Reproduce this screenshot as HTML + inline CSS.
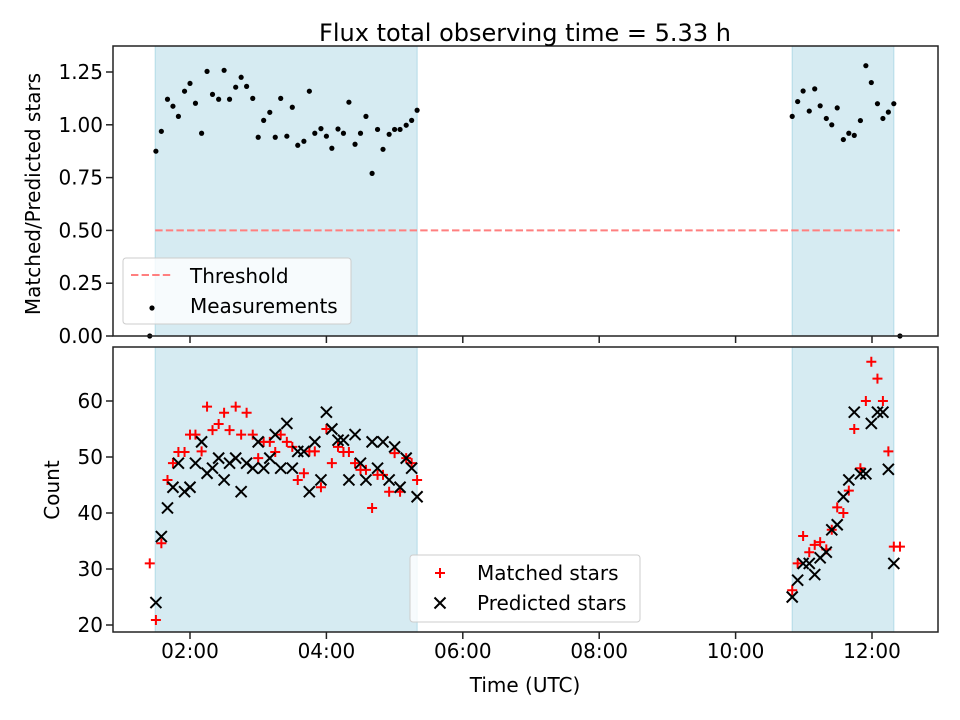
<!DOCTYPE html>
<html><head><meta charset="utf-8"><style>
body{margin:0;background:#fff;}
svg{display:block;font-family:"DejaVu Sans","Liberation Sans",sans-serif;}
</style></head><body>
<svg id="chart" width="960" height="720" viewBox="0 0 960 720"></svg>
<script>
// ---- data ----
const timesLeft = [1.50,1.58,1.67,1.75,1.83,1.92,2.00,2.08,2.17,2.25,2.33,2.42,2.50,2.58,2.67,2.75,2.83,2.92,3.00,3.08,3.17,3.25,3.33,3.42,3.50,3.58,3.67,3.75,3.83,3.92,4.00,4.08,4.17,4.25,4.33,4.42,4.50,4.58,4.67,4.75,4.83,4.92,5.00,5.08,5.17,5.25,5.33];
const ratioLeft = [0.875,0.969,1.121,1.088,1.040,1.159,1.196,1.102,0.960,1.253,1.144,1.121,1.258,1.121,1.178,1.225,1.182,1.125,0.941,1.021,1.059,0.941,1.125,0.946,1.083,0.903,0.922,1.159,0.960,0.982,0.946,0.889,0.980,0.960,1.107,0.908,0.960,1.040,0.770,0.978,0.884,0.955,0.978,0.978,0.998,1.021,1.069];
const matchedLeft = [20.9,34.6,45.9,48.9,50.9,50.9,54,54,51,59,54.8,55.9,57.9,54.8,59,54,57.9,54,49.8,52.7,52.7,50.9,54,52.7,51.8,45.9,47.1,51,51,44.6,55,48.9,51.8,50.9,50.9,48.9,47.7,47.7,40.9,46.8,46.8,43.8,50.7,43.8,49.8,48.9,45.9];
const predictedLeft = [24,35.8,40.9,44.6,48.9,43.8,44.6,48.9,52.7,47.1,48,49.8,45.9,48.9,49.8,43.8,48.9,48,52.7,48,49.8,54,48,56,48,51,51,43.8,52.7,45.9,58,55,53,53,45.9,54,48.9,45.9,52.7,48,52.7,45.9,51.8,44.6,49.8,48,42.9];
const timesRight = [10.83,10.91,10.99,11.08,11.16,11.24,11.33,11.41,11.49,11.58,11.66,11.74,11.83,11.91,11.99,12.08,12.16,12.24,12.32];
const ratioRight = [1.04,1.11,1.16,1.065,1.17,1.09,1.03,1.00,1.08,0.93,0.96,0.95,1.02,1.28,1.20,1.10,1.03,1.06,1.10];
const matchedRight = [26.2,31,35.9,33,34.3,34.8,33.5,37,41,40,44,55,48,60,67,64,60,51,34];
const predictedRight = [25,28,31,31,29,32,33,37,37.9,42.9,45.9,58,47,47,56,58,58,47.8,31];
const edgeTimes = [1.41,12.41];
const edgeRatio = [0,0];
const edgeMatched = [31,34];
const shadeStarts = [1.49,10.83];
const shadeEnds = [5.33,12.32];
const threshold = 0.5;
const xTicks = [2,4,6,8,10,12];
const xTickLabels = ["02:00","04:00","06:00","08:00","10:00","12:00"];
const topTicks = [0,0.25,0.5,0.75,1.0,1.25];
const botTicks = [20,30,40,50,60];

// ---- scales ----
const L=113,R=938,T1=46,B1=336,T2=347,B2=632;
const xS = h => 190 + (h-2)*68.2;
const yTop = v => 336 - v*211.2;
const yBot = v => 625 - (v-20)*5.6;
const NS="http://www.w3.org/2000/svg";
const svg=document.getElementById('chart');
function mk(tag,attrs,parent){const e=document.createElementNS(NS,tag);for(const k in attrs)e.setAttribute(k,attrs[k]);(parent||svg).appendChild(e);return e;}
function txt(s,attrs,parent){const e=mk('text',attrs,parent);e.textContent=s;return e;}
const FS=20;

const gTop=mk('g',{});


const gBot=mk('g',{});



[[gTop,T1,B1],[gBot,T2,B2]].forEach(([g,t,b])=>{
  for(let i=0;i<shadeStarts.length;i++){
    const r=mk('rect',{x:xS(shadeStarts[i]),y:t,width:xS(shadeEnds[i])-xS(shadeStarts[i]),height:b-t,fill:'rgba(173,216,230,0.5)',stroke:'rgba(173,216,230,0.9)','stroke-width':1},g);
    
    
  }
});

// threshold
const th=mk('line',{x1:xS(1.49),x2:xS(12.41),y1:yTop(threshold),y2:yTop(threshold),stroke:'#ff7f7f','stroke-width':2,'stroke-dasharray':'7.4,3.2'},gTop);



// measurements
const allT=[...edgeTimes.slice(0,1),...timesLeft,...timesRight,...edgeTimes.slice(1)];
const allR=[...edgeRatio.slice(0,1),...ratioLeft,...ratioRight,...edgeRatio.slice(1)];
allT.forEach((t,i)=>{
  const c=mk('circle',{cx:xS(t),cy:yTop(allR[i]),r:2.6,fill:'#000'},gTop);
  
  
});

// bottom markers
function plus(x,y){const p=mk('path',{d:`M${x-5},${y}H${x+5}M${x},${y-5}V${y+5}`,stroke:'#f00','stroke-width':2},gBot);
  
  }
function cross(x,y){const p=mk('path',{d:`M${x-5.5},${y-5.5}L${x+5.5},${y+5.5}M${x-5.5},${y+5.5}L${x+5.5},${y-5.5}`,stroke:'#000','stroke-width':2},gBot);
  
  }
const mT=[edgeTimes[0],...timesLeft,...timesRight,edgeTimes[1]];
const mV=[edgeMatched[0],...matchedLeft,...matchedRight,edgeMatched[1]];
mT.forEach((t,i)=>plus(xS(t),yBot(mV[i])));
const pT=[...timesLeft,...timesRight];
const pV=[...predictedLeft,...predictedRight];
pT.forEach((t,i)=>cross(xS(t),yBot(pV[i])));

// axes frames and ticks
[[T1,B1,topTicks,yTop,v=>v.toFixed(2),'top'],[T2,B2,botTicks,yBot,v=>String(v),'bottom']].forEach(([t,b,ticks,ys,fmt,nm])=>{
  const f=mk('rect',{x:L,y:t,width:R-L,height:b-t,fill:'none',stroke:'#222','stroke-width':1.5});
  
  
  ticks.forEach(v=>{
    const y=ys(v);
    mk('line',{x1:L-7,x2:L,y1:y,y2:y,stroke:'#222','stroke-width':1.5});
    const l=txt(fmt(v),{x:L-10,y:y+7,'text-anchor':'end','font-size':FS});
    
    
  });
  xTicks.forEach(h=>{const x=xS(h);mk('line',{x1:x,x2:x,y1:b,y2:b+7,stroke:'#222','stroke-width':1.5});});
});
xTicks.forEach((h,i)=>{
  const l=txt(xTickLabels[i],{x:xS(h),y:B2+26,'text-anchor':'middle','font-size':FS});
  
  
});

// titles
let e=txt('Flux total observing time = 5.33 h',{x:525,y:41,'text-anchor':'middle','font-size':24});

e=txt('Time (UTC)',{x:525,y:692,'text-anchor':'middle','font-size':FS});

e=txt('Matched/Predicted stars',{x:0,y:0,'text-anchor':'middle','font-size':FS,transform:'translate(40,194) rotate(-90)'});

e=txt('Count',{x:0,y:0,'text-anchor':'middle','font-size':FS,transform:'translate(59,490) rotate(-90)'});


// legends
const lg1=mk('g',{});

mk('rect',{x:123,y:258,width:228,height:66,rx:3,fill:'rgba(255,255,255,0.8)',stroke:'#ccc'},lg1);
mk('line',{x1:131,x2:173,y1:275,y2:275,stroke:'#ff7f7f','stroke-width':2,'stroke-dasharray':'7.4,3.2'},lg1);
e=txt('Threshold',{x:190,y:283,'font-size':FS},lg1);
mk('circle',{cx:152,cy:308,r:2.6,fill:'#000'},lg1);
e=txt('Measurements',{x:190,y:313,'font-size':FS},lg1);

const lg2=mk('g',{});

mk('rect',{x:410,y:555,width:230,height:67,rx:3,fill:'rgba(255,255,255,0.8)',stroke:'#ccc'},lg2);
mk('path',{d:'M435,573H445M440,568V578',stroke:'#f00','stroke-width':2},lg2);
e=txt('Matched stars',{x:477,y:580,'font-size':FS},lg2);
mk('path',{d:'M434.5,597.5L445.5,608.5M434.5,608.5L445.5,597.5',stroke:'#000','stroke-width':2},lg2);
e=txt('Predicted stars',{x:477,y:610,'font-size':FS},lg2);
</script>
</body></html>
